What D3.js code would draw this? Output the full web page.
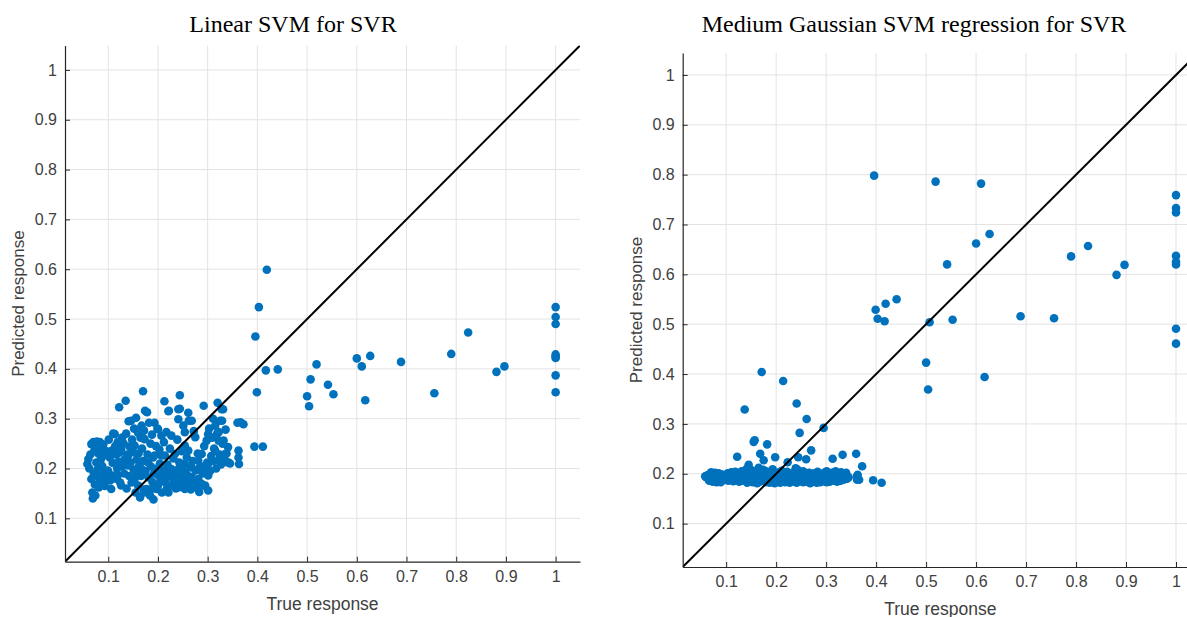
<!DOCTYPE html>
<html>
<head>
<meta charset="utf-8">
<script src="https://cdn.jsdelivr.net/npm/d3@7"></script>
<style>
  body { margin: 0; background: #fff; }
  svg { display: block; }
</style>
</head>
<body>
<svg id="chart" width="1187" height="617"></svg>
<script>
// true response (shared by both models)
const trueResponse = [
  0.058, 0.060, 0.062, 0.064, 0.066, 0.066, 0.068, 0.069, 0.070, 0.071,
  0.072, 0.073, 0.074, 0.075, 0.076, 0.077, 0.078, 0.079, 0.080, 0.081,
  0.082, 0.083, 0.084, 0.085, 0.086, 0.087, 0.088, 0.089, 0.090, 0.091,
  0.092, 0.093, 0.095, 0.097, 0.099,
  0.100, 0.101, 0.103, 0.104, 0.106, 0.107, 0.109, 0.110, 0.112, 0.113,
  0.114, 0.116, 0.117, 0.118, 0.119, 0.119, 0.121, 0.122, 0.123, 0.124,
  0.126, 0.126, 0.128, 0.129, 0.131, 0.132, 0.133, 0.135, 0.136, 0.137,
  0.138, 0.140, 0.140, 0.141, 0.142, 0.143, 0.145, 0.146, 0.147, 0.148,
  0.150, 0.151, 0.152, 0.153, 0.153, 0.155, 0.156, 0.157, 0.158, 0.160,
  0.160, 0.161, 0.162, 0.164, 0.165, 0.166, 0.167, 0.167, 0.168, 0.170,
  0.170, 0.171, 0.172, 0.173, 0.173, 0.174, 0.175,
  0.177, 0.178, 0.179, 0.180, 0.181, 0.182, 0.184, 0.185, 0.186, 0.187,
  0.188, 0.189, 0.190, 0.191, 0.192, 0.193, 0.193, 0.195, 0.196, 0.197,
  0.198, 0.199,
  0.200, 0.200, 0.201, 0.203, 0.204, 0.205, 0.207, 0.207, 0.208, 0.210,
  0.211, 0.212, 0.213, 0.214, 0.214, 0.215, 0.217, 0.218, 0.219, 0.221,
  0.221, 0.222, 0.223, 0.224,
  0.227, 0.227, 0.227, 0.229, 0.231, 0.232, 0.234, 0.236, 0.237, 0.239,
  0.241, 0.241, 0.241, 0.241, 0.241, 0.243, 0.244, 0.244, 0.245, 0.247,
  0.248, 0.249,
  0.251, 0.252, 0.254, 0.254, 0.254, 0.254, 0.254, 0.256, 0.258, 0.260,
  0.261, 0.261, 0.262, 0.263, 0.265, 0.266, 0.268, 0.268, 0.268, 0.268,
  0.270, 0.272, 0.273,
  0.275, 0.276, 0.278, 0.280, 0.281, 0.281, 0.281, 0.283, 0.285, 0.287,
  0.288, 0.290, 0.291, 0.292, 0.293, 0.295, 0.296, 0.298, 0.299,
  0.301, 0.301, 0.301, 0.301, 0.303, 0.305, 0.307, 0.309, 0.311, 0.312,
  0.313, 0.315, 0.315, 0.317, 0.319, 0.320, 0.322, 0.322, 0.322, 0.324,
  0.325, 0.327, 0.328, 0.329, 0.330, 0.331, 0.332, 0.333, 0.335, 0.336,
  0.338, 0.340, 0.342,
  0.341, 0.345, 0.360, 0.362, 0.362, 0.363, 0.366, 0.372,
  0.394, 0.396, 0.399, 0.403, 0.411, 0.417, 0.419, 0.441, 0.500, 0.504,
  0.507, 0.519, 0.542, 0.553, 0.600, 0.610, 0.617, 0.627, 0.689, 0.756,
  0.790, 0.824, 0.881, 0.897, 1, 1, 1, 1, 1, 1,
  1, 1
];

// Linear SVM predictions
const linearPredicted = [
  0.209, 0.219, 0.200, 0.228, 0.249, 0.179, 0.152, 0.140, 0.253, 0.190,
  0.236, 0.168, 0.146, 0.245, 0.212, 0.254, 0.185, 0.199, 0.230, 0.162,
  0.240, 0.253, 0.175, 0.218, 0.239, 0.179, 0.205, 0.170, 0.248, 0.226,
  0.192, 0.165, 0.235, 0.182, 0.196,
  0.194, 0.258, 0.222, 0.176, 0.159, 0.236, 0.211, 0.270, 0.186, 0.269,
  0.245, 0.228, 0.179, 0.200, 0.253, 0.186, 0.214, 0.323, 0.232, 0.172,
  0.239, 0.166, 0.262, 0.205, 0.250, 0.190, 0.218, 0.336, 0.270, 0.160,
  0.228, 0.226, 0.206, 0.295, 0.185, 0.244, 0.212, 0.296, 0.172, 0.258,
  0.233, 0.198, 0.280, 0.246, 0.179, 0.152, 0.302, 0.218, 0.190, 0.272,
  0.166, 0.230, 0.205, 0.142, 0.262, 0.185, 0.286, 0.199, 0.240, 0.355,
  0.215, 0.158, 0.276, 0.259, 0.152, 0.316, 0.195,
  0.159, 0.313, 0.228, 0.212, 0.182, 0.292, 0.146, 0.250, 0.204, 0.159,
  0.268, 0.173, 0.222, 0.138, 0.190, 0.292, 0.226, 0.165, 0.245, 0.159,
  0.200, 0.280,
  0.279, 0.166, 0.186, 0.238, 0.210, 0.175, 0.266, 0.226, 0.152, 0.179,
  0.196, 0.253, 0.335, 0.193, 0.226, 0.172, 0.273, 0.160, 0.208, 0.315,
  0.152, 0.316, 0.184, 0.240,
  0.266, 0.199, 0.166, 0.186, 0.220, 0.175, 0.229, 0.160, 0.193, 0.258,
  0.319, 0.299, 0.199, 0.179, 0.162, 0.212, 0.320, 0.347, 0.172, 0.188,
  0.235, 0.200,
  0.286, 0.165, 0.273, 0.246, 0.209, 0.179, 0.159, 0.192, 0.222, 0.170,
  0.312, 0.236, 0.296, 0.184, 0.205, 0.158, 0.296, 0.202, 0.183, 0.166,
  0.215, 0.275, 0.172,
  0.263, 0.196, 0.162, 0.230, 0.216, 0.179, 0.159, 0.153, 0.205, 0.170,
  0.229, 0.190, 0.166, 0.326, 0.245, 0.166, 0.200, 0.256, 0.212,
  0.269, 0.209, 0.186, 0.156, 0.280, 0.195, 0.225, 0.262, 0.300, 0.215,
  0.240, 0.286, 0.236, 0.200, 0.270, 0.332, 0.273, 0.256, 0.216, 0.228,
  0.296, 0.208, 0.319, 0.296, 0.250, 0.319, 0.256, 0.222, 0.229, 0.278,
  0.230, 0.212, 0.212,
  0.243, 0.210, 0.292, 0.236, 0.222, 0.209, 0.293, 0.289,
  0.244, 0.465, 0.353, 0.524, 0.244, 0.397, 0.599, 0.399, 0.345, 0.325,
  0.379, 0.409, 0.368, 0.349, 0.421, 0.405, 0.337, 0.426, 0.414, 0.351,
  0.430, 0.473, 0.394, 0.405, 0.524, 0.504, 0.490, 0.429, 0.425, 0.422,
  0.387, 0.353
];

// Medium Gaussian SVM predictions
const gaussianPredicted = [
  0.195, 0.193, 0.197, 0.190, 0.198, 0.186, 0.200, 0.192, 0.203, 0.188,
  0.195, 0.184, 0.199, 0.191, 0.196, 0.186, 0.202, 0.189, 0.194, 0.183,
  0.198, 0.190, 0.185, 0.201, 0.193, 0.187, 0.196, 0.183, 0.199, 0.190,
  0.186, 0.194, 0.188, 0.192, 0.197,
  0.189, 0.195, 0.201, 0.186, 0.193, 0.198, 0.188, 0.203, 0.191, 0.196,
  0.185, 0.199, 0.192, 0.204, 0.187, 0.194, 0.200, 0.234, 0.190, 0.197,
  0.184, 0.201, 0.193, 0.188, 0.205, 0.196, 0.186, 0.199, 0.191, 0.329,
  0.203, 0.187, 0.195, 0.210, 0.182, 0.198, 0.218, 0.190, 0.201, 0.185,
  0.193, 0.207, 0.188, 0.199, 0.183, 0.264, 0.195, 0.267, 0.190, 0.203,
  0.186, 0.197, 0.181, 0.192, 0.212, 0.188, 0.200, 0.184, 0.240, 0.196,
  0.189, 0.404, 0.202, 0.186, 0.194, 0.208, 0.227,
  0.191, 0.198, 0.183, 0.205, 0.188, 0.259, 0.186, 0.201, 0.191, 0.182,
  0.197, 0.189, 0.204, 0.193, 0.185, 0.199, 0.209, 0.187, 0.196, 0.181,
  0.233, 0.192,
  0.188, 0.201, 0.184, 0.195, 0.190, 0.203, 0.186, 0.197, 0.182, 0.193,
  0.206, 0.188, 0.199, 0.386, 0.185, 0.194, 0.201, 0.183, 0.191, 0.197,
  0.186, 0.204, 0.223, 0.189,
  0.196, 0.182, 0.192, 0.200, 0.186, 0.195, 0.189, 0.203, 0.184, 0.211,
  0.341, 0.193, 0.187, 0.199, 0.182, 0.208, 0.233, 0.190, 0.196, 0.282,
  0.185, 0.201,
  0.192, 0.186, 0.198, 0.183, 0.205, 0.190, 0.195, 0.187, 0.200, 0.229,
  0.310, 0.191, 0.184, 0.197, 0.189, 0.202, 0.186, 0.194, 0.181, 0.199,
  0.247, 0.190, 0.196,
  0.184, 0.201, 0.191, 0.186, 0.197, 0.182, 0.193, 0.204, 0.188, 0.195,
  0.183, 0.199, 0.189, 0.196, 0.185, 0.292, 0.202, 0.190, 0.186,
  0.197, 0.183, 0.205, 0.191, 0.187, 0.199, 0.184, 0.194, 0.189, 0.202,
  0.230, 0.186, 0.196, 0.190, 0.205, 0.192, 0.187, 0.199, 0.184, 0.195,
  0.201, 0.189, 0.197, 0.186, 0.203, 0.191, 0.196, 0.238, 0.188, 0.199,
  0.194, 0.202, 0.190,
  0.196, 0.193, 0.240, 0.195, 0.188, 0.198, 0.188, 0.215,
  0.187, 0.798, 0.529, 0.511, 0.182, 0.506, 0.541, 0.550, 0.423, 0.369,
  0.504, 0.786, 0.620, 0.509, 0.662, 0.782, 0.394, 0.681, 0.516, 0.512,
  0.636, 0.657, 0.599, 0.619, 0.759, 0.733, 0.724, 0.637, 0.625, 0.620,
  0.491, 0.461
];

const tickValues = [0.1, 0.2, 0.3, 0.4, 0.5, 0.6, 0.7, 0.8, 0.9, 1];
const titles = ['Linear SVM for SVR', 'Medium Gaussian SVM regression for SVR'];
const xTitle = 'True response';
const yTitle = 'Predicted response';

const svg = d3.select('#chart');

function drawPanel(id, title, preds, box, dom) {
  const x = d3.scaleLinear().domain(dom).range([box.left, box.right]);
  const y = d3.scaleLinear().domain(dom).range([box.bottom, box.top]);
  const g = svg.append('g');

  g.append('clipPath').attr('id', 'clip' + id)
    .append('rect')
    .attr('x', box.left).attr('y', box.top)
    .attr('width', box.right - box.left).attr('height', box.bottom - box.top);

  // grid
  g.append('g').selectAll('line').data(tickValues).enter().append('line')
    .attr('x1', d => x(d)).attr('x2', d => x(d))
    .attr('y1', box.top).attr('y2', box.bottom)
    .attr('stroke', '#e3e3e3').attr('stroke-width', 1);
  g.append('g').selectAll('line').data(tickValues).enter().append('line')
    .attr('y1', d => y(d)).attr('y2', d => y(d))
    .attr('x1', box.left).attr('x2', box.right)
    .attr('stroke', '#e3e3e3').attr('stroke-width', 1);

  const plot = g.append('g').attr('clip-path', `url(#clip${id})`);

  plot.selectAll('circle')
    .data(trueResponse)
    .enter()
    .append('circle')
    .attr('cx', d => x(d))
    .attr('cy', (d, i) => y(preds[i]))
    .attr('r', 4.3)
    .attr('fill', '#0072BD');

  // perfect prediction line
  plot.append('line')
    .attr('x1', x(dom[0])).attr('y1', y(dom[0]))
    .attr('x2', x(dom[1])).attr('y2', y(dom[1]))
    .attr('stroke', '#000').attr('stroke-width', 2);

  const fmt = d => d === 1 ? '1' : d3.format('.1f')(d);

  const xAxis = g.append('g')
    .attr('transform', `translate(0,${box.bottom})`)
    .call(d3.axisBottom(x).tickValues(tickValues).tickFormat(fmt)
      .tickSizeInner(-5).tickSizeOuter(0).tickPadding(9));
  const yAxis = g.append('g')
    .attr('transform', `translate(${box.left},0)`)
    .call(d3.axisLeft(y).tickValues(tickValues).tickFormat(fmt)
      .tickSizeInner(-5).tickSizeOuter(0).tickPadding(8));

  [xAxis, yAxis].forEach(a => {
    a.select('.domain').attr('stroke', '#262626').attr('stroke-width', 1.2);
    a.selectAll('.tick line').attr('stroke', '#262626');
    a.selectAll('.tick text')
      .attr('fill', '#404040')
      .style('font-family', '"Liberation Sans", Arial, sans-serif')
      .style('font-size', '16px');
  });

  g.append('text')
    .attr('x', (box.left + box.right) / 2)
    .attr('y', box.bottom + 48)
    .attr('text-anchor', 'middle')
    .attr('fill', '#404040')
    .style('font-family', '"Liberation Sans", Arial, sans-serif')
    .style('font-size', '17.5px')
    .text(xTitle);

  g.append('text')
    .attr('transform', `translate(${box.left - 41},${(box.top + box.bottom) / 2}) rotate(-90)`)
    .attr('text-anchor', 'middle')
    .attr('fill', '#404040')
    .style('font-family', '"Liberation Sans", Arial, sans-serif')
    .style('font-size', '17px')
    .text(yTitle);

  g.append('text')
    .attr('x', box.titleX)
    .attr('y', 32)
    .attr('text-anchor', 'middle')
    .attr('fill', '#000')
    .style('font-family', '"Liberation Serif", "Times New Roman", serif')
    .style('font-size', '24px')
    .text(title);
}

drawPanel('L', titles[0], linearPredicted,
  { left: 65, right: 580, top: 45.5, bottom: 561.7, titleX: 293 },
  [0.013, 1.049]);
drawPanel('R', titles[1], gaussianPredicted,
  { left: 682.7, right: 1198, top: 53, bottom: 567, titleX: 914 },
  [0.013, 1.044]);
</script>
</body>
</html>
